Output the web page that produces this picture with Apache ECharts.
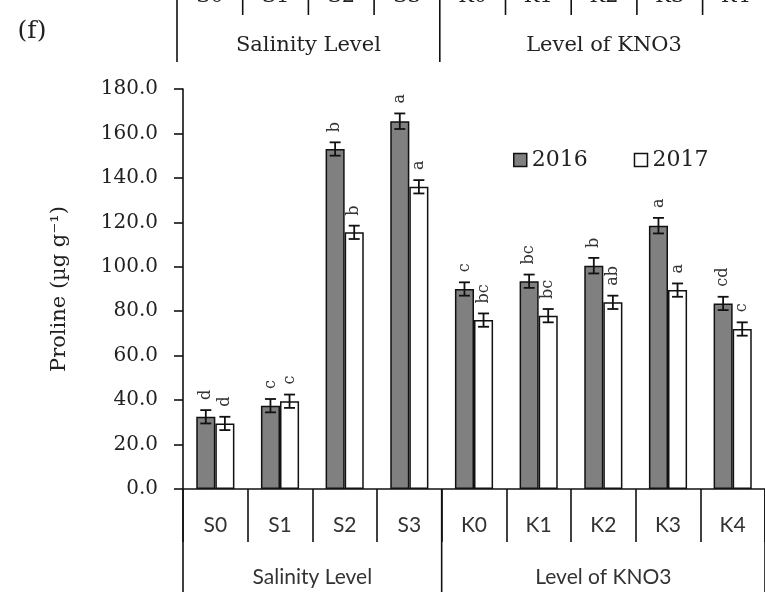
<!DOCTYPE html>
<html>
<head>
<meta charset="utf-8">
<title>Proline content</title>
<script src="https://cdn.jsdelivr.net/npm/echarts@6/dist/echarts.min.js"></script>
<style>
  html, body { margin: 0; padding: 0; background: #fff; }
  #chart { width: 765px; height: 592px; }
</style>
</head>
<body>
<div id="chart"></div>
<script>
// Treatments along the x axis and how they are grouped in the table below it
const categories = ['S0', 'S1', 'S2', 'S3', 'K0', 'K1', 'K2', 'K3', 'K4'];
const groups = [
  { name: 'Salinity Level', span: 4 },
  { name: 'Level of KNO3', span: 5 }
];

// Proline (µg g-1), mean ± error, with significance letters
const values2016 = [32.5, 37.5, 153.0, 165.5, 90.0, 93.5, 100.5, 118.5, 83.5];
const errors2016 = [3.0, 3.0, 3.0, 3.5, 3.0, 3.0, 3.5, 3.5, 3.0];
const letters2016 = ['d', 'c', 'b', 'a', 'c', 'bc', 'b', 'a', 'cd'];

const values2017 = [29.5, 39.5, 115.5, 136.0, 76.0, 78.0, 84.0, 89.5, 72.0];
const errors2017 = [3.0, 3.0, 3.0, 3.0, 3.0, 3.0, 3.0, 3.0, 3.0];
const letters2017 = ['d', 'c', 'b', 'a', 'bc', 'bc', 'ab', 'a', 'c'];

// y axis ticks
const yMin = 0, yMax = 180, yStep = 20;

const SERIF = 'DejaVu Serif';
const SANS = 'Lato';
const INK = '#111';
const CAT_GAP = 0.41;

const chart = echarts.init(document.getElementById('chart'), null, { renderer: 'canvas' });

function errorSeries(name, values, errors, letters, side) {
  return {
    type: 'custom',
    name: name,
    coordinateSystem: 'cartesian2d',
    z: 5,
    silent: true,
    data: values.map((v, i) => [i, v, errors[i]]),
    encode: { x: 0, y: 1 },
    renderItem(params, api) {
      const i = api.value(0), v = api.value(1), e = api.value(2);
      const catW = api.size([1, 0])[0];
      const barW = catW * (1 - CAT_GAP) / 2;
      const x = api.coord([i, v])[0] + side * barW / 2;
      const yHi = api.coord([i, v + e])[1];
      const yLo = api.coord([i, v - e])[1];
      const cap = 5.5;
      const st = { stroke: INK, lineWidth: 1.8 };
      return {
        type: 'group',
        children: [
          { type: 'line', shape: { x1: x, y1: yHi, x2: x, y2: yLo }, style: st },
          { type: 'line', shape: { x1: x - cap, y1: yHi, x2: x + cap, y2: yHi }, style: st },
          { type: 'line', shape: { x1: x - cap, y1: yLo, x2: x + cap, y2: yLo }, style: st },
          {
            type: 'text', x: x, y: yHi - 10, rotation: Math.PI / 2,
            style: {
              text: letters[params.dataIndex], fontFamily: SERIF, fontSize: 16,
              fill: '#333', align: 'left', verticalAlign: 'middle'
            }
          }
        ]
      };
    }
  };
}

const option = {
  animation: false,
  backgroundColor: '#fff',
  grid: { left: 183, right: 0, top: 89, bottom: 103, containLabel: false },
  legend: {
    left: 513, top: 149, padding: 0,
    itemWidth: 13, itemHeight: 13, itemGap: 46,
    textStyle: { fontFamily: SERIF, fontSize: 22, color: '#222' },
    data: [
      { name: '2016', icon: 'rect', itemStyle: { color: '#808080', borderColor: INK, borderWidth: 1.5 } },
      { name: '2017', icon: 'rect', itemStyle: { color: '#fff', borderColor: INK, borderWidth: 1.5 } }
    ]
  },
  xAxis: {
    type: 'category',
    data: categories,
    axisLine: { lineStyle: { color: INK, width: 1.6 } },
    axisTick: { show: true, interval: 0, length: 53, lineStyle: { color: INK, width: 1.6 } },
    axisLabel: { interval: 0, margin: 26, fontFamily: SANS, fontSize: 21, color: '#333' },
    splitLine: { show: false }
  },
  yAxis: {
    type: 'value',
    min: yMin, max: yMax, interval: yStep,
    name: 'Proline (µg g⁻¹)',
    nameLocation: 'middle',
    nameRotate: 90,
    nameGap: 113,
    nameTextStyle: { fontFamily: SERIF, fontSize: 21, color: '#222' },
    axisLine: { show: true, lineStyle: { color: INK, width: 1.6 } },
    axisTick: { show: true, length: 9, lineStyle: { color: INK, width: 1.6 } },
    axisLabel: {
      margin: 25, fontFamily: SERIF, fontSize: 20, color: '#222',
      formatter: v => v.toFixed(1)
    },
    splitLine: { show: false }
  },
  series: [
    {
      name: '2016', type: 'bar', data: values2016,
      barCategoryGap: (CAT_GAP * 100) + '%', barGap: '0%',
      itemStyle: { color: '#808080', borderColor: INK, borderWidth: 1.5 }
    },
    {
      name: '2017', type: 'bar', data: values2017,
      barCategoryGap: (CAT_GAP * 100) + '%', barGap: '0%',
      itemStyle: { color: '#fff', borderColor: INK, borderWidth: 1.5 }
    },
    errorSeries('2016 error', values2016, errors2016, letters2016, -1),
    errorSeries('2017 error', values2017, errors2017, letters2017, 1)
  ]
};

chart.setOption(option);

// Table under the x axis: group separators and group names
function tableGraphics() {
  const c0 = chart.convertToPixel({ xAxisIndex: 0 }, 0);
  const c1 = chart.convertToPixel({ xAxisIndex: 0 }, 1);
  const w = c1 - c0;
  const axisY = chart.convertToPixel({ yAxisIndex: 0 }, 0);
  const els = [];
  let start = 0;
  const lineStyle = { stroke: INK, lineWidth: 1.6 };
  groups.forEach((g, gi) => {
    const xL = c0 - w / 2 + start * w;
    const xR = xL + g.span * w;
    els.push({ type: 'line', shape: { x1: xL, y1: axisY, x2: xL, y2: 600 }, style: lineStyle });
    if (gi === groups.length - 1) {
      els.push({ type: 'line', shape: { x1: xR, y1: axisY, x2: xR, y2: 600 }, style: lineStyle });
    }
    els.push({
      type: 'text', x: (xL + xR) / 2, y: axisY + 88,
      style: { text: g.name, fontFamily: SANS, fontSize: 21, fill: '#333', align: 'center', verticalAlign: 'middle' }
    });
    start += g.span;
  });

  // Lower edge of the panel above: its category table, partly visible
  const topLeft = 177, topW = 65.7;
  start = 0;
  groups.forEach((g, gi) => {
    const xL = topLeft + start * topW;
    const xR = xL + g.span * topW;
    els.push({ type: 'line', shape: { x1: xL, y1: -2, x2: xL, y2: 62 }, style: lineStyle });
    for (let k = 1; k < g.span; k++) {
      const xs = xL + k * topW;
      els.push({ type: 'line', shape: { x1: xs, y1: -2, x2: xs, y2: 15 }, style: lineStyle });
    }
    for (let k = 0; k < g.span; k++) {
      els.push({
        type: 'text', x: xL + (k + 0.5) * topW, y: -3,
        style: { text: categories[start + k], fontFamily: SERIF, fontSize: 21, fill: '#222', align: 'center', verticalAlign: 'middle' }
      });
    }
    els.push({
      type: 'text', x: (xL + xR) / 2, y: 46,
      style: { text: g.name, fontFamily: SERIF, fontSize: 21, fill: '#222', align: 'center', verticalAlign: 'middle' }
    });
    start += g.span;
  });

  // panel tag
  els.push({
    type: 'text', x: 32, y: 31,
    style: { text: '(f)', fontFamily: SERIF, fontSize: 25, fill: '#222', align: 'center', verticalAlign: 'middle' }
  });
  return els;
}

chart.setOption({ graphic: { elements: tableGraphics() } });
</script>
</body>
</html>
